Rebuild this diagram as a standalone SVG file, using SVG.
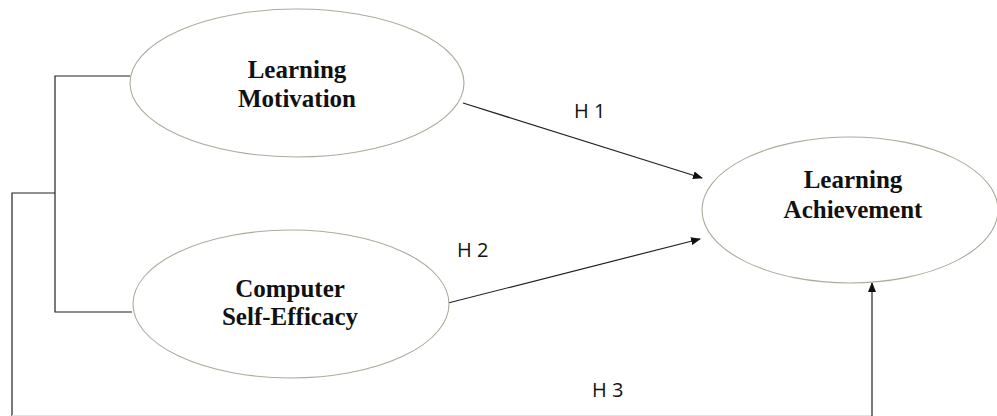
<svg xmlns="http://www.w3.org/2000/svg" width="997" height="416" viewBox="0 0 997 416">
<defs>
<marker id="arr" markerWidth="10" markerHeight="8" refX="9" refY="4" orient="auto" markerUnits="userSpaceOnUse">
<path d="M0,0 L10,4 L0,8 Z" fill="#111"/>
</marker>
<style>
.node ellipse{fill:#fff;stroke:#a9ad9a;stroke-width:1.1}
.lbl{font-family:"Liberation Serif","Times New Roman",serif;font-weight:bold;font-size:25px;fill:#111;text-anchor:middle}
.h{font-family:"Open Sans","Liberation Sans",sans-serif;font-size:20px;fill:#111}
.c{fill:none;stroke:#222;stroke-width:1.2}
</style>
</defs>
<rect width="997" height="416" fill="#fff"/>
<g id="connectors">
<polyline class="c" points="130,76 55,76 55,312 132,312"/>
<polyline class="c" points="55,193 12,193 12,416"/>
<line x1="12" y1="415.5" x2="872" y2="415.5" stroke="#e2e2e2" stroke-width="1"/>
<line class="c" x1="463" y1="103" x2="702" y2="178" marker-end="url(#arr)"/>
<line class="c" x1="448" y1="303" x2="700" y2="239" marker-end="url(#arr)"/>
<line class="c" x1="872" y1="416" x2="872" y2="283" marker-end="url(#arr)"/>
<text class="h" x="574" y="118">H 1</text>
<text class="h" x="457" y="257">H 2</text>
<text class="h" x="592" y="397">H 3</text>
</g>
<g id="learning-motivation" class="node">
<ellipse cx="297" cy="83" rx="167" ry="74"/>
<text class="lbl" x="297" y="78">Learning</text>
<text class="lbl" x="297" y="107">Motivation</text>
</g>
<g id="computer-self-efficacy" class="node">
<ellipse cx="291" cy="304" rx="158" ry="74"/>
<text class="lbl" x="290" y="297">Computer</text>
<text class="lbl" x="290" y="325">Self-Efficacy</text>
</g>
<g id="learning-achievement" class="node">
<ellipse cx="850" cy="210" rx="148" ry="73"/>
<text class="lbl" x="853" y="188">Learning</text>
<text class="lbl" x="853" y="218">Achievement</text>
</g>
</svg>
